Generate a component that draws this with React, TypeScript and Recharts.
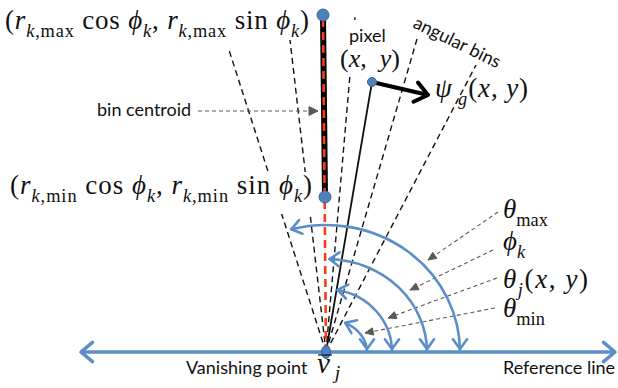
import React from "react";
import { ComposedChart, XAxis, YAxis, Line, Scatter } from "recharts";

type Pt = { x: number; y: number };
type Part = [string, "i" | "r" | "si" | "sr"];

// diagram units: 1 unit = 1 px, vanishing point at the origin, y pointing up
const W = 618;
const H = 388;
const X_DOMAIN = [-326, 292];
const Y_DOMAIN = [-36, 352];

const vanishingPoint: Pt = { x: 0, y: 0 };
const binBoundaryEnds: Pt[] = [
  { x: -97, y: 302 },
  { x: -36, y: 312 },
  { x: 29, y: 335 },
  { x: 91, y: 313 },
  { x: 150, y: 287 },
];
const binTop: Pt = { x: -3, y: 337 };
const binBottom: Pt = { x: -1, y: 155 };
const pixelPt: Pt = { x: 46, y: 270 };
const gradientTip: Pt = { x: 102, y: 257 };
const refLineEnds: Pt[] = [
  { x: -245, y: 0 },
  { x: 289, y: 0 },
];

// angle arcs around the vanishing point, outer to inner
const angleNames = ["theta_max", "phi_k", "theta_j", "theta_min"];
const angleRx = [134, 101, 66, 41];
const angleRy = [127, 93, 63, 33];
const angleDeg = [105, 88, 80, 62];

// dashed callouts from the angle labels to their arcs
const pointerFrom: Pt[] = [
  { x: 172, y: 140 },
  { x: 167, y: 102 },
  { x: 171, y: 74 },
  { x: 169, y: 44 },
];
const pointerTo: Pt[] = [
  { x: 102, y: 92 },
  { x: 84, y: 62 },
  { x: 62, y: 34 },
  { x: 39, y: 19 },
];
const centroidPointer: Pt[] = [
  { x: -128, y: 241 },
  { x: -8, y: 241 },
];

const topCoord: Part[] = [
  ["(", "r"], ["r", "i"], ["k", "si"], [",max", "sr"], [" cos ", "r"], ["ϕ", "i"], ["k", "si"],
  [", ", "r"], ["r", "i"], ["k", "si"], [",max", "sr"], [" sin ", "r"], ["ϕ", "i"], ["k", "si"], [")", "r"],
];
const bottomCoord: Part[] = [
  ["(", "r"], ["r", "i"], ["k", "si"], [",min", "sr"], [" cos ", "r"], ["ϕ", "i"], ["k", "si"],
  [", ", "r"], ["r", "i"], ["k", "si"], [",min", "sr"], [" sin ", "r"], ["ϕ", "i"], ["k", "si"], [")", "r"],
];

const mathLabels = [
  { x: -321, y: 323, size: 27, len: 304, parts: topCoord },
  { x: -316, y: 158, size: 27, len: 302, parts: bottomCoord },
  { x: 14, y: 285, size: 26, parts: [["(", "r"], ["x", "i"], [",  ", "r"], ["y", "i"], [")", "r"]] as Part[] },
  { x: 109, y: 255, size: 27, len: 93, parts: [["ψ", "i"], [" g", "si"], ["(", "r"], ["x", "i"], [", ", "r"], ["y", "i"], [")", "r"]] as Part[] },
  { x: 177, y: 134, size: 27, parts: [["θ", "i"], ["max", "sr"]] as Part[] },
  { x: 177, y: 102, size: 27, parts: [["ϕ", "i"], ["k", "si"]] as Part[] },
  { x: 177, y: 64, size: 27, len: 85, parts: [["θ", "i"], ["j", "si"], ["(", "r"], ["x", "i"], [", ", "r"], ["y", "i"], [")", "r"]] as Part[] },
  { x: 177, y: 35, size: 27, parts: [["θ", "i"], ["min", "sr"]] as Part[] },
  { x: -9, y: -21, size: 29, parts: [["v", "i"], [" j", "si"]] as Part[], bar: true, shift: 0.22 },
];

const textLabels = [
  { x: -229, y: 236, text: "bin centroid", rot: 0 },
  { x: 23, y: 310, text: "pixel", rot: 0 },
  { x: 86, y: 325, text: "angular bins", rot: 26 },
  { x: -140, y: -22, text: "Vanishing point", rot: 0 },
  { x: 177, y: -22, text: "Reference line", rot: 0 },
];

// white text boxes that hide the bin lines behind labels
const labelMasks = [
  { x: -326, y: 180, w: 318, h: 42 },
  { x: 12, y: 332, w: 64, h: 56 },
];

const C = {
  blue: "#5B8DC8",
  dot: "#4F81BD",
  dotEdge: "#3A6594",
  red: "#FF3A1A",
  gray: "#595959",
};
const MATH_FONT = "'Liberation Serif', 'DejaVu Serif', serif";
const SANS_FONT = "Lato, 'Open Sans', sans-serif";

function chevron(tip: Pt, dir: Pt, len: number, spread: number) {
  const m = Math.hypot(dir.x, dir.y);
  const ux = dir.x / m;
  const uy = dir.y / m;
  const arm = (a: number) => ({
    x: tip.x - (ux * Math.cos(a) - uy * Math.sin(a)) * len,
    y: tip.y - (ux * Math.sin(a) + uy * Math.cos(a)) * len,
  });
  const a = (spread * Math.PI) / 180;
  const p1 = arm(a);
  const p2 = arm(-a);
  return `M${p1.x},${p1.y} L${tip.x},${tip.y} L${p2.x},${p2.y}`;
}

function arrowDot(seg: Pt[], opts: { color: string; len: number; spread: number; width: number; filled?: boolean; both?: boolean }) {
  return (p: any) => {
    const n = seg.length;
    const i = p.index;
    if (i === n - 1 || (opts.both && i === 0)) {
      const a = i === 0 ? seg[1] : seg[n - 2];
      const b = i === 0 ? seg[0] : seg[n - 1];
      const dir = { x: b.x - a.x, y: -(b.y - a.y) };
      const d = chevron({ x: p.cx, y: p.cy }, dir, opts.len, opts.spread);
      return opts.filled ? (
        <path key={`a${i}`} d={d + " Z"} fill={opts.color} stroke={opts.color} strokeWidth={1} />
      ) : (
        <path key={`a${i}`} d={d} fill="none" stroke={opts.color} strokeWidth={opts.width} strokeLinecap="round" strokeLinejoin="round" />
      );
    }
    return <g key={`a${i}`} />;
  };
}

function MathText({ x, y, parts, size, len, shift = 0.3 }: { x: number; y: number; parts: Part[]; size: number; len?: number; shift?: number }) {
  let inSub = false;
  const dyStep = size * shift;
  return (
    <text
      x={x}
      y={y}
      fontFamily={MATH_FONT}
      fontSize={size}
      fill="#111"
      textLength={len}
      lengthAdjust={len ? "spacing" : undefined}
      style={{ whiteSpace: "pre" }}
    >
      {parts.map(([t, s], i) => {
        const sub = s[0] === "s";
        let dy = 0;
        if (sub && !inSub) dy = dyStep;
        if (!sub && inSub) dy = -dyStep;
        inSub = sub;
        return (
          <tspan key={i} dy={dy || undefined} fontStyle={s.endsWith("i") ? "italic" : "normal"} fontSize={sub ? size * 0.68 : size}>
            {t}
          </tspan>
        );
      })}
    </text>
  );
}

const arcShape = (p: any) => {
  const { cx, cy, payload } = p;
  const { rx, ry, deg } = payload;
  const t = (deg * Math.PI) / 180;
  const x0 = cx + rx;
  const x1 = cx + rx * Math.cos(t);
  const y1 = cy - ry * Math.sin(t);
  const endDir = { x: -rx * Math.sin(t), y: -ry * Math.cos(t) };
  const stroke = { fill: "none", stroke: C.blue, strokeWidth: 2.6, strokeLinecap: "round" as const, strokeLinejoin: "round" as const };
  return (
    <g>
      <path d={`M${x0},${cy} A${rx},${ry} 0 0 0 ${x1},${y1}`} {...stroke} />
      <path d={chevron({ x: x0, y: cy - 3 }, { x: 0, y: 1 }, 12, 36)} {...stroke} />
      <path d={chevron({ x: x1, y: y1 }, endDir, 12, 36)} {...stroke} />
    </g>
  );
};

const dotShape = (p: any) => {
  const { cx, cy, payload } = p;
  return <ellipse cx={cx} cy={cy} rx={payload.rx} ry={payload.ry} fill={C.dot} stroke={C.dotEdge} strokeWidth={1} />;
};

const maskShape = (p: any) => {
  const { cx, cy, payload } = p;
  return <rect x={cx} y={cy} width={payload.w} height={payload.h} fill="#fff" />;
};

const mathShape = (p: any) => {
  const { cx, cy, payload } = p;
  return (
    <g>
      <MathText x={cx} y={cy} parts={payload.parts} size={payload.size} len={payload.len} shift={payload.shift} />
      {payload.bar && <line x1={cx + 1} x2={cx + 15} y1={cy - 18} y2={cy - 18} stroke="#111" strokeWidth={1.2} />}
    </g>
  );
};

const textShape = (p: any) => {
  const { cx, cy, payload } = p;
  return (
    <text x={cx} y={cy} fontFamily={SANS_FONT} fontSize={18} fill="#111" transform={payload.rot ? `rotate(${payload.rot} ${cx} ${cy})` : undefined}>
      {payload.text}
    </text>
  );
};

export default function App() {
  if (typeof document !== "undefined") document.body.style.margin = "0";

  const arcs = angleNames.map((name, i) => ({ ...vanishingPoint, name, rx: angleRx[i], ry: angleRy[i], deg: angleDeg[i] }));
  const dots = [
    { ...binTop, rx: 6, ry: 6 },
    { ...binBottom, rx: 6, ry: 6 },
    { ...pixelPt, rx: 4.5, ry: 4.5 },
    { ...vanishingPoint, rx: 4.5, ry: 6.5 },
  ];
  const psiArrow = [pixelPt, gradientTip];
  const line = (data: Pt[], props: any, key: string) => (
    <Line key={key} data={data} dataKey="y" type="linear" isAnimationActive={false} activeDot={false} dot={false} legendType="none" {...props} />
  );

  return (
    <ComposedChart width={W} height={H} margin={{ top: 0, right: 0, bottom: 0, left: 0 }} style={{ background: "#fff" }}>
      <XAxis type="number" dataKey="x" domain={X_DOMAIN} allowDataOverflow hide />
      <YAxis type="number" dataKey="y" domain={Y_DOMAIN} allowDataOverflow hide />

      {binBoundaryEnds.map((e, i) =>
        line([vanishingPoint, e], { stroke: "#111", strokeWidth: 1.4, strokeDasharray: "6 4" }, `ray${i}`)
      )}
      {line([vanishingPoint, pixelPt], { stroke: "#111", strokeWidth: 1.8 }, "pix")}

      <Scatter data={labelMasks} shape={maskShape} isAnimationActive={false} legendType="none" />

      {line([binBottom, binTop], { stroke: "#000", strokeWidth: 6 }, "bar")}
      {line([vanishingPoint, binTop], { stroke: C.red, strokeWidth: 2.6, strokeDasharray: "8 5" }, "centroid")}

      {line(refLineEnds, {
        stroke: C.blue,
        strokeWidth: 3.5,
        dot: arrowDot(refLineEnds, { color: C.blue, len: 15, spread: 40, width: 3.5, both: true }),
      }, "ref")}

      <Scatter data={arcs} shape={arcShape} isAnimationActive={false} legendType="none" />

      {pointerFrom.map((f, i) => {
        const seg = [f, pointerTo[i]];
        return line(seg, {
          stroke: C.gray,
          strokeWidth: 1.1,
          strokeDasharray: "4 3",
          dot: arrowDot(seg, { color: C.gray, len: 9, spread: 24, width: 1, filled: true }),
        }, `ptr${i}`);
      })}
      {line(centroidPointer, {
        stroke: C.gray,
        strokeWidth: 1.1,
        strokeDasharray: "4 3",
        dot: arrowDot(centroidPointer, { color: C.gray, len: 10, spread: 26, width: 1, filled: true }),
      }, "cptr")}

      {line(psiArrow, {
        stroke: "#000",
        strokeWidth: 4,
        dot: arrowDot(psiArrow, { color: "#000", len: 16, spread: 38, width: 4 }),
      }, "psi")}

      <Scatter data={dots} shape={dotShape} isAnimationActive={false} legendType="none" />
      <Scatter data={mathLabels} shape={mathShape} isAnimationActive={false} legendType="none" />
      <Scatter data={textLabels} shape={textShape} isAnimationActive={false} legendType="none" />
    </ComposedChart>
  );
}
